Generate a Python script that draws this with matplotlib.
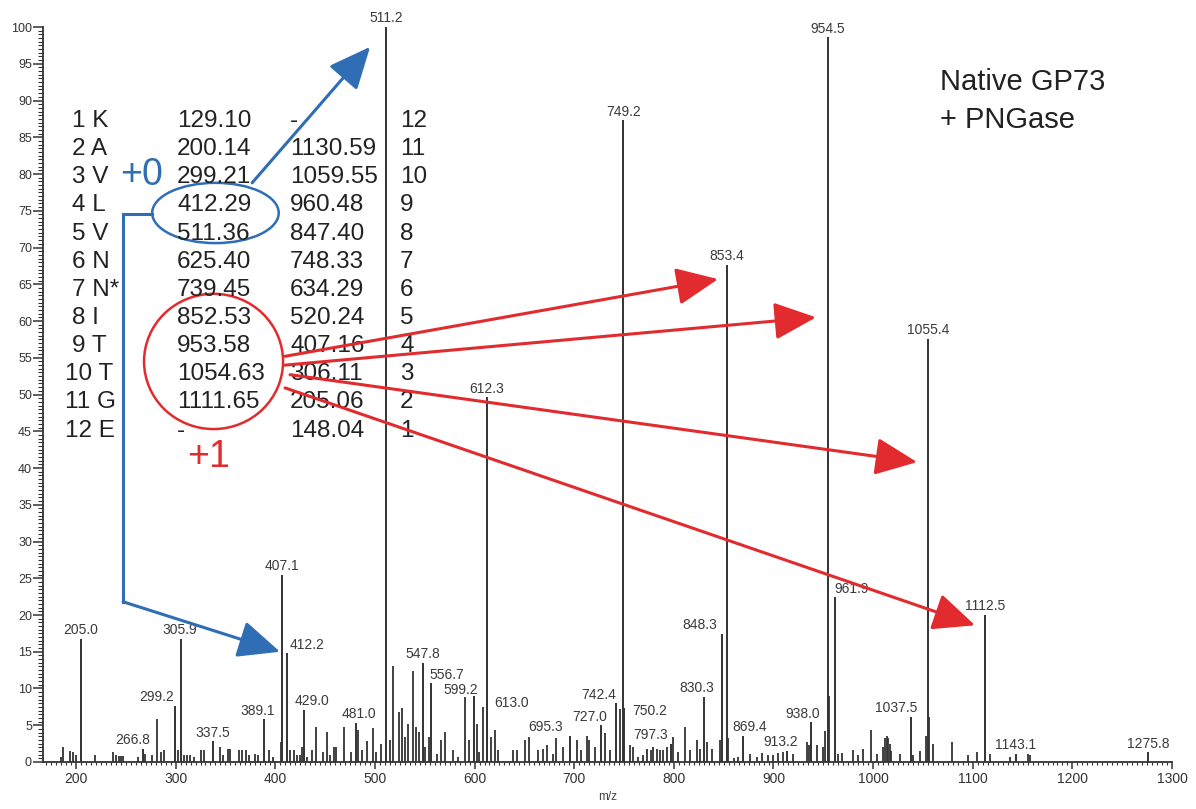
import matplotlib.pyplot as plt
from matplotlib.patches import Ellipse
from matplotlib.ticker import MultipleLocator

plt.rcParams['font.family'] = ['Liberation Sans', 'DejaVu Sans']

# labelled peaks: m/z and relative intensity (%)
label_mz = [205.0, 266.8, 299.2, 305.9, 337.5, 389.1, 407.1, 412.2, 429.0, 481.0,
            511.2, 547.8, 556.7, 599.2, 612.3, 613.0, 695.3, 727.0, 742.4, 749.2,
            750.2, 797.3, 830.3, 848.3, 853.4, 869.4, 913.2, 938.0, 954.5, 961.9,
            1037.5, 1055.4, 1112.5, 1143.1, 1275.8]
label_int = [16.8, 1.8, 7.6, 16.8, 2.8, 5.8, 25.5, 14.8, 7.1, 5.3,
             100.0, 13.5, 10.7, 9.0, 49.6, 6.8, 3.6, 5.0, 8.0, 87.3,
             7.3, 2.5, 8.9, 17.4, 67.6, 3.6, 1.5, 5.4, 98.6, 22.4,
             6.1, 57.6, 20.0, 1.1, 1.3]

# unlabelled background peaks
noise_mz = [184.6, 186.6, 194.0, 196.7, 200.0, 219.0, 237.4, 240.0, 243.0, 245.0,
            247.0, 262.5, 269.5, 276.0, 281.0, 285.0, 288.0, 302.0, 308.0, 311.0,
            314.0, 318.0, 326.0, 328.5, 345.0, 348.0, 353.0, 355.0, 364.0, 367.0,
            370.5, 374.0, 379.4, 383.0, 393.5, 398.0, 406.0, 414.5, 419.0, 422.0,
            425.0, 426.5, 432.0, 437.0, 440.6, 448.0, 451.6, 455.0, 458.7,
            461.0, 469.0, 475.8, 483.4, 486.8, 491.7, 497.7, 501.2, 505.8, 515.2,
            518.5, 524.5, 526.8, 530.3, 533.5, 537.8, 541.3, 544.6, 550.3, 554.7,
            562.0, 566.0, 570.6, 578.7, 583.8, 590.4, 594.8, 602.6, 604.8, 608.0,
            616.3, 620.5, 623.9, 638.9, 642.3, 650.6, 655.0, 664.0, 669.0, 672.7,
            678.5, 681.7, 689.1, 702.5, 706.6, 712.5, 715.3, 721.0, 731.0, 736.0,
            746.0, 756.1, 758.8, 764.4, 768.8, 772.8, 776.8, 779.5, 782.8, 786.2,
            789.5, 792.9, 799.5, 804.6, 811.3, 816.3, 823.0, 826.3, 833.0, 838.1,
            846.4, 854.7, 860.4, 864.8, 876.5, 883.2, 888.2, 894.9, 899.9, 904.9,
            909.9, 920.0, 933.4, 935.4, 943.4, 950.1, 951.5, 955.8, 965.1, 968.5,
            980.2, 985.2, 990.2, 997.5, 1003.6, 1010.0, 1012.0, 1013.5, 1015.0, 1016.5,
            1018.0, 1027.0, 1040.3, 1047.0, 1052.7, 1056.5, 1059.8, 1078.8, 1095.6, 1104.0,
            1117.3, 1137.4, 1155.8, 1157.5]
noise_int = [0.7, 2.0, 1.5, 1.4, 0.9, 1.0, 1.4, 1.0, 0.8, 0.8,
             0.8, 0.7, 1.1, 0.9, 5.8, 1.4, 1.7, 1.6, 1.0, 1.0,
             1.0, 0.7, 1.6, 1.6, 2.0, 0.9, 1.8, 1.8, 1.7, 1.6,
             1.7, 0.9, 1.1, 1.0, 1.7, 0.7, 2.7, 1.7, 1.7, 0.9,
             0.9, 2.1, 0.7, 1.7, 4.7, 1.4, 4.1, 0.9, 2.0,
             2.0, 4.7, 1.4, 4.3, 1.6, 2.9, 4.6, 1.4, 2.4, 3.0,
             13.0, 6.8, 7.3, 3.4, 5.2, 12.4, 4.8, 4.1, 2.0, 3.4,
             1.1, 3.0, 4.1, 1.6, 0.7, 8.8, 3.0, 5.2, 1.4, 7.5,
             3.4, 4.3, 1.6, 1.6, 1.6, 3.0, 3.4, 1.6, 1.8, 2.3,
             1.1, 3.3, 2.1, 3.0, 1.6, 3.6, 3.0, 2.0, 3.9, 1.6,
             7.2, 2.3, 2.0, 0.7, 0.9, 1.8, 1.6, 2.0, 1.8, 1.6,
             1.6, 2.0, 3.4, 1.4, 4.8, 1.6, 3.0, 1.8, 2.7, 1.8,
             3.0, 3.2, 0.5, 0.7, 1.1, 0.7, 1.2, 0.9, 0.9, 1.2,
             1.4, 1.1, 2.7, 2.3, 2.3, 2.0, 4.2, 9.0, 1.1, 1.2,
             1.6, 0.9, 1.8, 4.3, 1.1, 2.0, 3.2, 3.5, 3.3, 2.5,
             1.5, 1.1, 0.9, 1.5, 3.5, 6.1, 2.5, 2.7, 1.0, 1.4,
             1.1, 0.7, 1.1, 0.9]

# fragment ion table for KAVLVNN*ITTGE
residues = ['1 K', '2 A', '3 V', '4 L', '5 V', '6 N', '7 N*', '8 I', '9 T', '10 T', '11 G', '12 E']
b_ions = ['129.10', '200.14', '299.21', '412.29', '511.36', '625.40', '739.45',
          '852.53', '953.58', '1054.63', '1111.65', '-']
y_ions = ['-', '1130.59', '1059.55', '960.48', '847.40', '748.33', '634.29',
          '520.24', '407.16', '306.11', '205.06', '148.04']
y_index = ['12', '11', '10', '9', '8', '7', '6', '5', '4', '3', '2', '1']

# peak label nudges in points (dx, dy)
label_shift = {'266.8': (-7, 0), '299.2': (-13, 0), '305.9': (-1.5, 0), '389.1': (-5, 0),
               '412.2': (14, 0), '429.0': (6, 0), '481.0': (2, 0), '556.7': (11, 0),
               '599.2': (-9, -2), '613.0': (17, 0), '695.3': (-17, 0), '727.0': (-8, 0),
               '742.4': (-13, 0), '750.2': (18, -8), '797.3': (-15, 0), '830.3': (-5, 0),
               '848.3': (-16, 0), '869.4': (5, 0), '913.2': (-4, 0), '938.0': (-6, 0),
               '961.9': (12, 0), '1037.5': (-10, 0)}

ink = '#333333'
blue = '#2f6db5'
red = '#e12b2f'

fig = plt.figure(figsize=(11.96, 8.09), dpi=100)
ax = fig.add_axes([0.036, 0.0581, 0.944, 0.9085])

ax.vlines(noise_mz, 0, noise_int, color=ink, lw=1.3)
ax.vlines(label_mz, 0, label_int, color=ink, lw=1.4)

for m, h in zip(label_mz, label_int):
    txt = f'{m:.1f}'
    dx, dy = label_shift.get(txt, (0, 0))
    ax.annotate(txt, (m, h), xytext=(dx, 1.2 + dy), textcoords='offset points',
                ha='center', va='bottom', fontsize=10, color='#3a3a3a',
                annotation_clip=False)

ax.set_xlim(167, 1300)
ax.set_ylim(0, 100)
for s in ['top', 'right']:
    ax.spines[s].set_visible(False)
for s in ['left', 'bottom']:
    ax.spines[s].set_color(ink)
    ax.spines[s].set_linewidth(1.3)
ax.xaxis.set_major_locator(MultipleLocator(100))
ax.xaxis.set_minor_locator(MultipleLocator(5))
ax.yaxis.set_major_locator(MultipleLocator(5))
ax.yaxis.set_minor_locator(MultipleLocator(0.5))
ax.tick_params(axis='y', which='major', length=7, width=1.1, color=ink, labelsize=9,
               labelcolor=ink, pad=1)
ax.tick_params(axis='y', which='minor', length=3.5, width=0.8, color=ink)
ax.tick_params(axis='x', which='major', length=5, width=1.1, color=ink, labelsize=10,
               labelcolor=ink, pad=2.5)
ax.tick_params(axis='x', which='minor', length=2.5, width=0.8, color=ink)
ax.set_xlabel('m/z', fontsize=8.5, color='#444444', labelpad=3)

# ion table
row0, step = 86.4, 3.83
for i in range(len(residues)):
    yb = row0 - i * step
    x0 = 196.1 if len(residues[i].split()[0]) == 1 else 189.1
    ax.text(x0, yb, residues[i], fontsize=17.5, color='#222222', va='baseline')
    ax.text(301.5, yb, b_ions[i], fontsize=17.5, color='#222222', va='baseline')
    ax.text(414.9, yb, y_ions[i], fontsize=17.5, color='#222222', va='baseline')
    ax.text(525.3, yb, y_index[i], fontsize=17.5, color='#222222', va='baseline')

ax.text(1067, 92.5, 'Native GP73', fontsize=21, color='#222222', va='center')
ax.text(1067, 87.3, '+ PNGase', fontsize=21, color='#222222', va='center')

ax.text(244.3, 78.5, '+0', fontsize=27, color=blue, va='baseline')
ax.text(311.5, 40.1, '+1', fontsize=27, color=red, va='baseline')

ax.add_patch(Ellipse((340, 74.7), 127, 8.2, fill=False, ec=blue, lw=1.8))
ax.add_patch(Ellipse((338.1, 54.5), 139.5, 18.4, fill=False, ec=red, lw=1.8))

head = '-|>,head_length=1.3,head_width=0.58'


def arrow(start, end, color):
    ax.annotate('', xy=end, xytext=start,
                arrowprops=dict(arrowstyle=head, color=color, lw=2.2,
                                mutation_scale=20, shrinkA=0, shrinkB=0),
                annotation_clip=False, zorder=4)


# +0 series: b4/b5 pointers
arrow((376.8, 78.8), (495.2, 97.3), blue)
ax.plot([276.4, 247.3, 247.3], [74.6, 74.6, 21.8], color=blue, lw=2.2,
        solid_joinstyle='miter')
arrow((247.3, 21.8), (404.8, 15.0), blue)

# +1 series: b8-b11 pointers
arrow((409.9, 55.2), (844.4, 65.7), red)
arrow((409.9, 54.0), (942.7, 60.5), red)
arrow((414.9, 52.7), (1044.1, 40.8), red)
arrow((409.9, 50.9), (1102.3, 18.6), red)

fig.savefig('out.png', dpi=100)
